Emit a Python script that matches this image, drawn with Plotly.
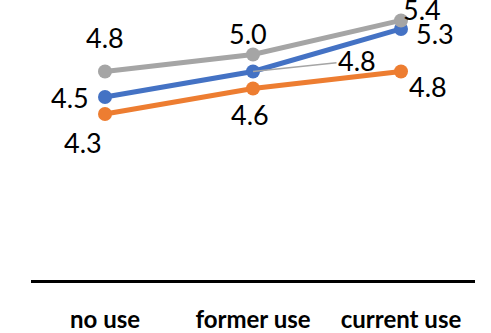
import plotly.graph_objects as go

# Categories and series values
categories = ["no use", "former use", "current use"]
blue_vals = [4.5, 4.8, 5.3]
orange_vals = [4.3, 4.6, 4.8]
gray_vals = [4.8, 5.0, 5.4]

BLUE = "#4472C4"
ORANGE = "#ED7D31"
GRAY = "#A5A5A5"

# Pixel offsets of each value label from its point (dx right, dy down)
blue_offsets = [(-35, 0), None, (34, 5)]
orange_offsets = [(-22, 28), (-3, 26), (27, 15)]
gray_offsets = [(0, -34), (-5, -21), (21, -11)]
blue_leader = (1, (104, -11))  # label with a leader line

LABEL_FONT = dict(family="Lato", size=27, color="black")

fig = go.Figure()
for vals, color in [(blue_vals, BLUE), (orange_vals, ORANGE), (gray_vals, GRAY)]:
    fig.add_trace(go.Scatter(
        x=categories, y=vals, mode="lines+markers",
        line=dict(color=color, width=5),
        marker=dict(color=color, size=14),
        cliponaxis=False, showlegend=False, hoverinfo="skip",
    ))

annotations = []
for vals, offs in [(blue_vals, blue_offsets), (orange_vals, orange_offsets), (gray_vals, gray_offsets)]:
    for cat, v, off in zip(categories, vals, offs):
        if off is None:
            continue
        annotations.append(dict(
            x=cat, y=v, text=f"{v:.1f}", showarrow=False,
            xshift=off[0], yshift=-off[1], font=LABEL_FONT,
            xanchor="center", yanchor="middle",
        ))

idx, (ax, ay) = blue_leader
annotations.append(dict(
    x=categories[idx], y=blue_vals[idx], text=f"{blue_vals[idx]:.1f}",
    showarrow=True, arrowhead=0, arrowwidth=1.5, arrowcolor=GRAY,
    ax=ax, ay=ay, standoff=0, font=LABEL_FONT,
))

fig.update_layout(
    width=491, height=333,
    margin=dict(l=31, r=16, t=0, b=46),
    paper_bgcolor="white", plot_bgcolor="white",
    annotations=annotations,
    xaxis=dict(
        type="category", range=[-0.5, 2.5],
        showline=True, linecolor="black", linewidth=3,
        showgrid=False, zeroline=False,
        ticks="outside", ticklen=16, tickcolor="rgba(0,0,0,0)",
        tickfont=dict(family="Lato", size=24, color="black", weight="bold"),
    ),
    yaxis=dict(
        range=[2.35, 5.64], visible=False, showgrid=False, zeroline=False,
    ),
)

fig.write_html("out.html")
